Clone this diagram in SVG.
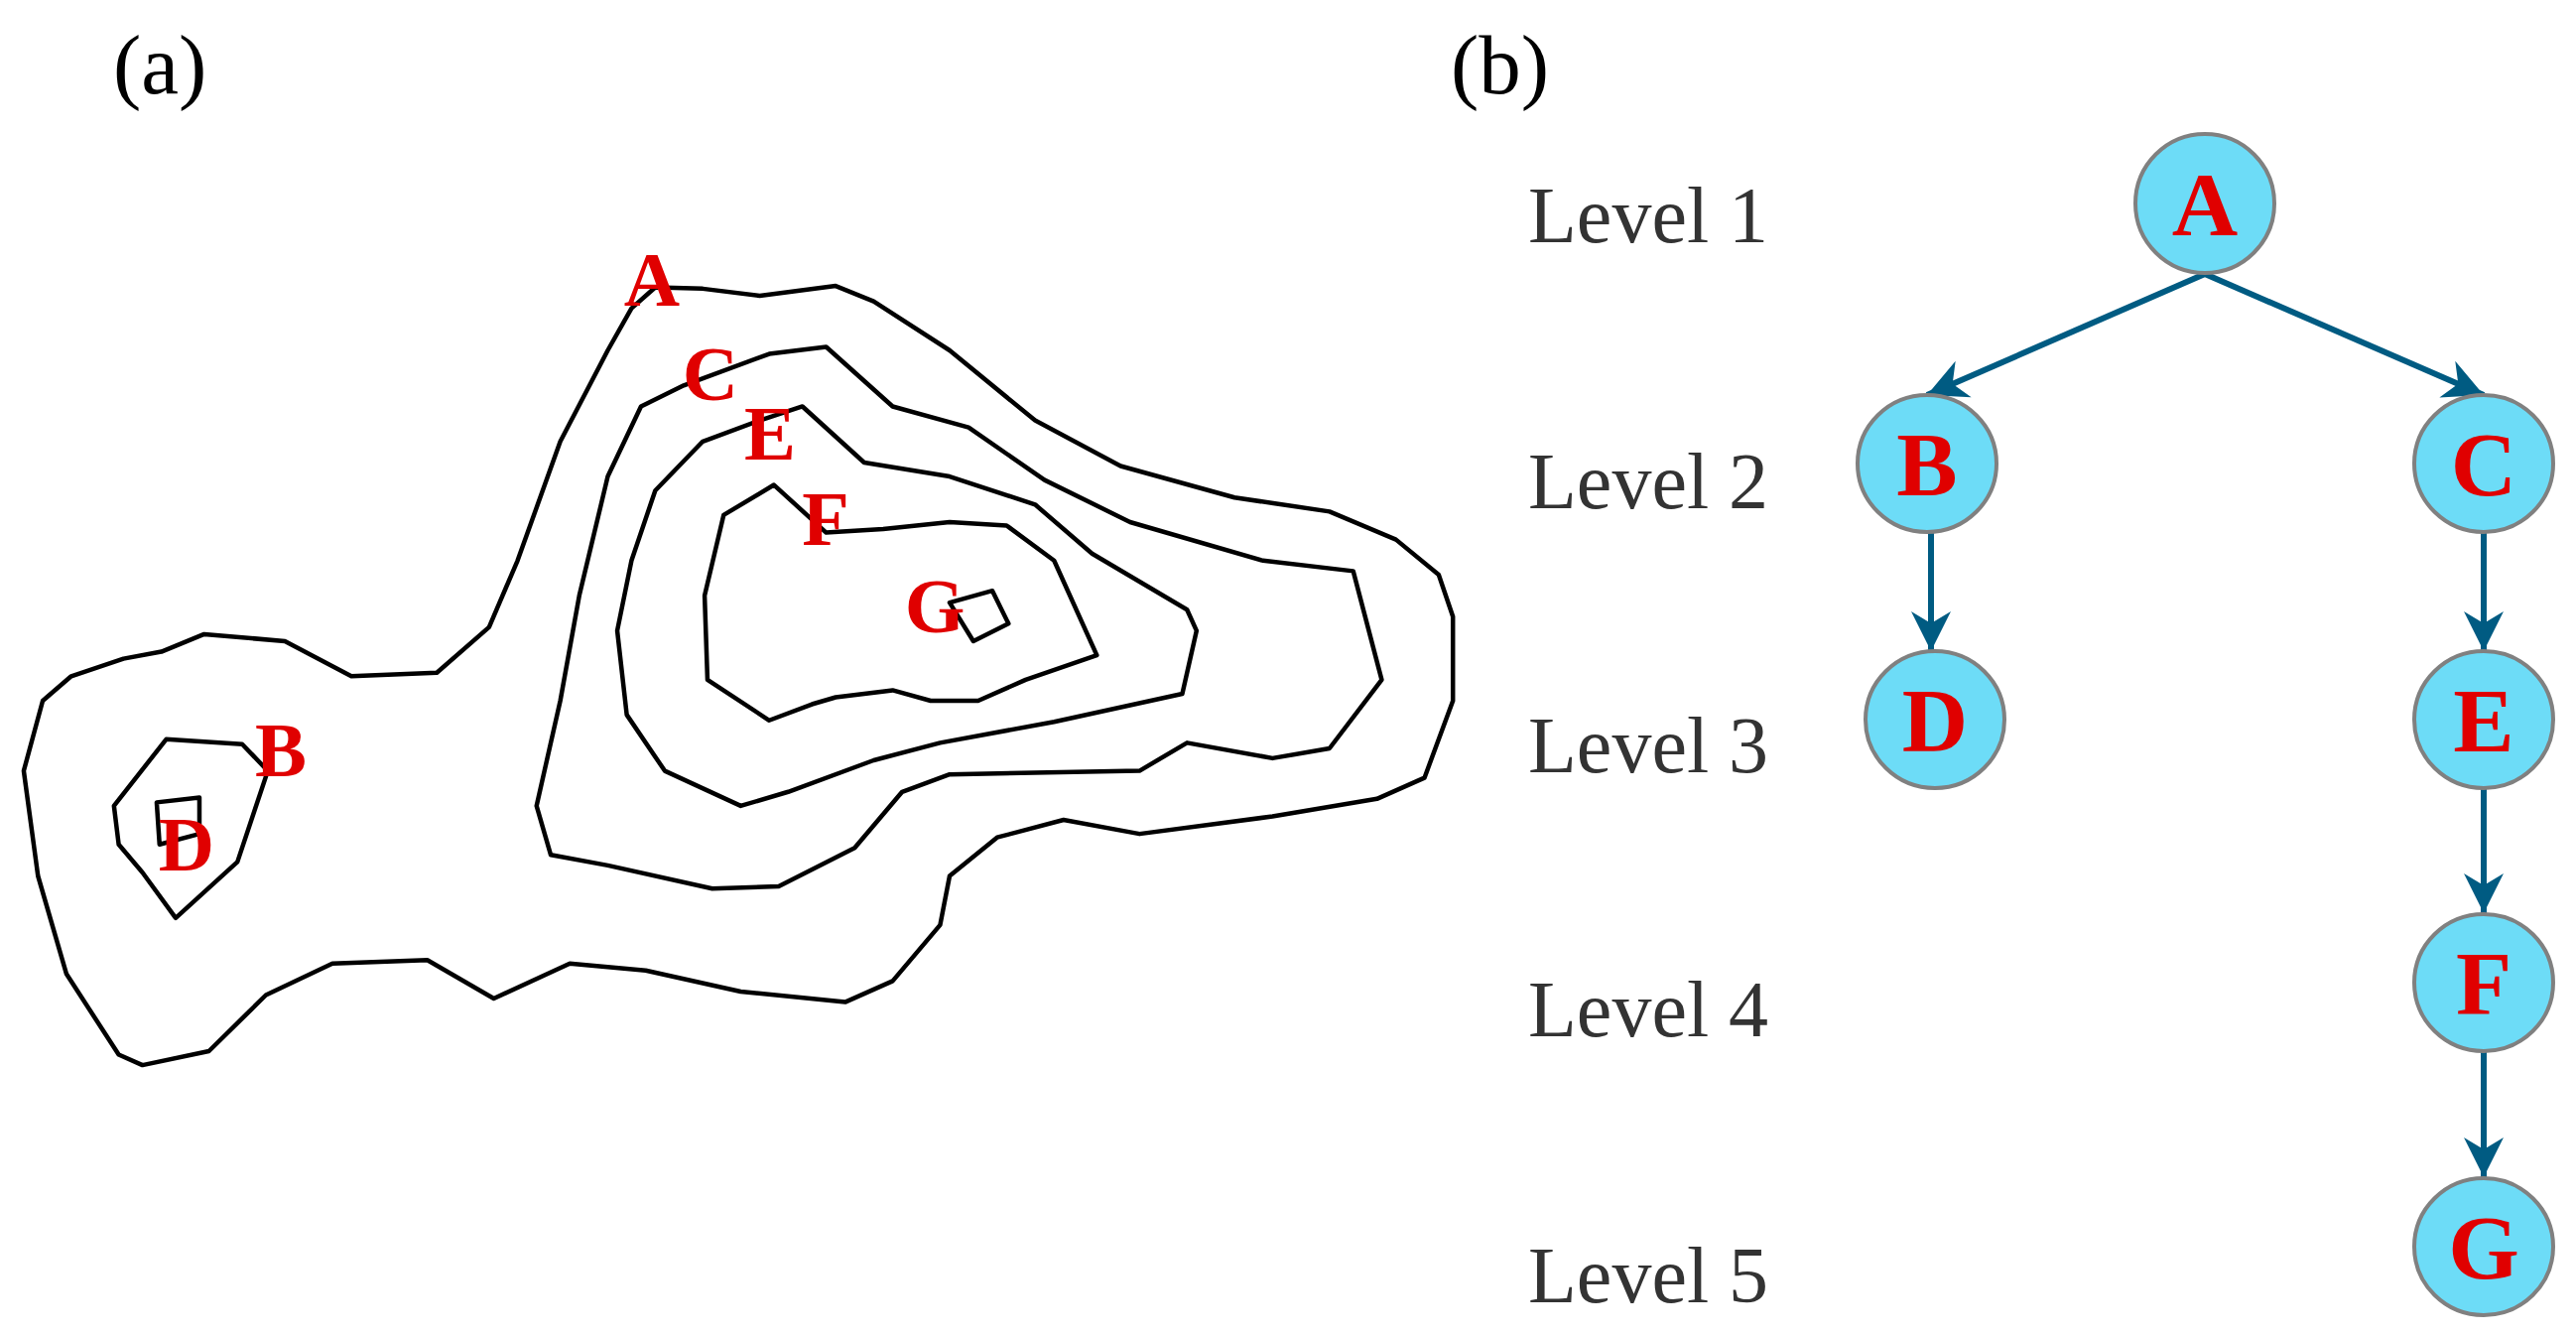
<svg xmlns="http://www.w3.org/2000/svg" width="2596" height="1346" viewBox="0 0 2596 1346">
<style>
.ttl{font-family:"Liberation Serif",serif;font-size:85px;fill:#000}
.lvl{font-family:"Liberation Serif",serif;font-size:80px;fill:#333}
.cl{font-family:"Liberation Serif",serif;font-size:78px;font-weight:bold;fill:#e00000;text-anchor:middle}
.nd{fill:#6ddcf7;stroke:#808080;stroke-width:4}
.nt{font-family:"Liberation Serif",serif;font-size:92px;font-weight:bold;fill:#e00000;text-anchor:middle}
.ct{fill:none;stroke:#000;stroke-width:4.5;stroke-linejoin:round;vector-effect:non-scaling-stroke}
.ed{stroke:#005b82;stroke-width:6;fill:none;marker-end:url(#ah)}
</style>
<defs>
<marker id="ah" markerUnits="userSpaceOnUse" markerWidth="50" markerHeight="50" refX="40" refY="20" orient="auto" viewBox="0 0 50 40">
<path d="M0,0 L40,20 L0,40 L12,20 Z" fill="#005b82"/>
</marker>
</defs>
<rect width="2596" height="1346" fill="#fff"/>
<text class="ttl" x="114" y="94">(a)</text>
<text class="ttl" x="1462" y="94">(b)</text>
<g id="contours" transform="scale(0.957,0.706)">
<path class="ct" d="M690,410 L740,412 L800,422 L880,408 L920,430 L1000,500 L1090,600 L1180,665 L1300,710 L1400,730 L1470,770 L1515,820 L1530,880 L1530,1000 L1500,1110 L1450,1140 L1340,1165 L1200,1190 L1120,1170 L1050,1195 L1000,1250 L990,1320 L940,1400 L890,1430 L780,1415 L680,1385 L600,1375 L520,1425 L450,1370 L350,1375 L280,1420 L220,1500 L150,1520 L125,1505 L70,1390 L40,1250 L25,1100 L45,1000 L75,965 L130,940 L170,930 L215,905 L300,915 L370,965 L460,960 L515,895 L545,800 L590,630 L640,500 L665,440 Z"/>
<path class="ct" d="M580,1220 L640,1235 L750,1268 L820,1265 L900,1210 L950,1130 L1000,1105 L1200,1100 L1250,1060 L1340,1082 L1400,1068 L1455,970 L1425,815 L1330,800 L1190,745 L1100,685 L1020,610 L940,580 L870,495 L810,505 L720,550 L675,580 L640,680 L610,850 L590,1000 L565,1150 Z"/>
<path class="ct" d="M845,580 L910,660 L1000,680 L1090,720 L1150,790 L1250,870 L1260,900 L1245,990 L1110,1030 L990,1060 L920,1085 L830,1130 L780,1150 L700,1100 L660,1020 L650,900 L665,800 L690,700 L740,630 L800,600 Z"/>
<path class="ct" d="M815,692 L870,760 L930,755 L1000,745 L1060,750 L1110,800 L1155,935 L1080,970 L1030,1000 L980,1000 L940,985 L880,995 L855,1005 L810,1028 L745,970 L742,850 L762,735 Z"/>
<path class="ct" d="M1000,860 L1045,843 L1062,890 L1025,915 Z"/>
<path class="ct" d="M175,1055 L255,1062 L282,1100 L250,1230 L185,1310 L150,1245 L125,1205 L120,1150 Z"/>
<path class="ct" d="M165,1145 L210,1138 L210,1190 L168,1205 Z"/>
</g>
<g id="contour-labels">
<text class="cl" x="657" y="308">A</text>
<text class="cl" x="716" y="403">C</text>
<text class="cl" x="776" y="463">E</text>
<text class="cl" x="832" y="549">F</text>
<text class="cl" x="942" y="637">G</text>
<text class="cl" x="283" y="782">B</text>
<text class="cl" x="188" y="877">D</text>
</g>
<g id="levels">
<text class="lvl" x="1540" y="244">Level 1</text>
<text class="lvl" x="1540" y="512">Level 2</text>
<text class="lvl" x="1540" y="778">Level 3</text>
<text class="lvl" x="1540" y="1044">Level 4</text>
<text class="lvl" x="1540" y="1312">Level 5</text>
</g>
<g id="connectors">
<line class="ed" x1="2222" y1="276" x2="1942" y2="398"/>
<line class="ed" x1="2222" y1="276" x2="2503" y2="398"/>
<line class="ed" x1="1946" y1="536" x2="1946" y2="656"/>
<line class="ed" x1="2503" y1="536" x2="2503" y2="656"/>
<line class="ed" x1="2503" y1="794" x2="2503" y2="920"/>
<line class="ed" x1="2503" y1="1060" x2="2503" y2="1186"/>
</g>
<g id="node-A"><ellipse class="nd" cx="2222" cy="205" rx="70" ry="70"/><text class="nt" x="2222" y="237">A</text></g>
<g id="node-B"><ellipse class="nd" cx="1942" cy="467" rx="70" ry="69"/><text class="nt" x="1942" y="499">B</text></g>
<g id="node-C"><ellipse class="nd" cx="2503" cy="467" rx="70" ry="69"/><text class="nt" x="2503" y="499">C</text></g>
<g id="node-D"><ellipse class="nd" cx="1950" cy="725" rx="70" ry="69"/><text class="nt" x="1950" y="757">D</text></g>
<g id="node-E"><ellipse class="nd" cx="2503" cy="725" rx="70" ry="69"/><text class="nt" x="2503" y="757">E</text></g>
<g id="node-F"><ellipse class="nd" cx="2503" cy="990" rx="70" ry="69"/><text class="nt" x="2503" y="1022">F</text></g>
<g id="node-G"><ellipse class="nd" cx="2503" cy="1256" rx="70" ry="69"/><text class="nt" x="2503" y="1288">G</text></g>
</svg>
